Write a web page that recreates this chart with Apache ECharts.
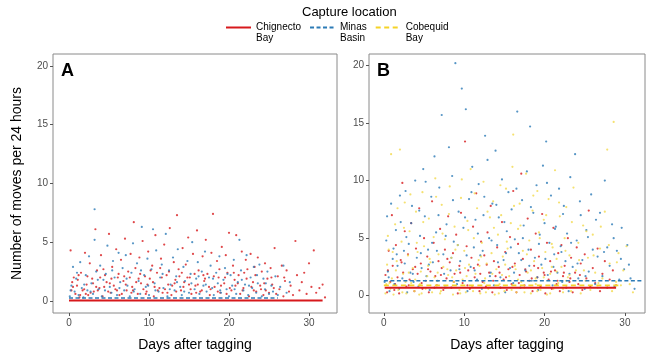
<!DOCTYPE html>
<html><head><meta charset="utf-8">
<script src="https://cdn.jsdelivr.net/npm/echarts@6/dist/echarts.min.js"></script>
<style>html,body{margin:0;padding:0;background:#fff}#c{width:647px;height:357px}</style>
</head><body><div id="c"></div>
<script>
const xTicks = [0, 10, 20, 30];
const yTicks = [0, 5, 10, 15, 20];
const locations = ['Chignecto Bay', 'Minas Basin', 'Cobequid Bay'];

// Panel A: fitted lines
const fitChignectoA = [[0, 0.05], [31.7, 0.05]];
const fitMinasA = [[0, 0.25], [26.1, 0.25]];
// Panel B: fitted lines
const fitChignectoB = [[0.1, 0.7], [28.9, 0.7]];
const fitMinasB = [[0, 1.3], [32.1, 1.3]];
const fitCobequidB = [[0, 0.9], [29.6, 0.9]];

const chignectoA = [[0.2,4.3],[0.5,1.2],[0.8,0.6],[1.1,1.8],[1.3,0.3],[1.5,2.4],[1.7,0.9],[2.0,4.1],[2.2,1.4],[2.4,0.5],[2.6,3.2],[2.9,1.9],[3.1,0.8],[3.3,6.1],[3.5,2.6],[3.8,1.1],[4.0,3.9],[4.2,0.4],[4.5,2.2],[4.7,1.6],[5.0,5.7],[5.2,0.7],[5.4,2.9],[5.6,1.3],[5.9,4.4],[6.1,2.0],[6.3,0.5],[6.5,3.5],[6.8,1.7],[7.0,5.3],[7.2,0.9],[7.4,2.5],[7.7,4.0],[7.9,1.2],[8.1,6.7],[8.3,2.8],[8.6,0.6],[8.8,3.7],[9.0,1.5],[9.2,5.1],[9.5,2.1],[9.7,0.8],[9.9,4.2],[10.1,1.9],[10.4,3.0],[10.6,0.4],[10.8,5.6],[11.0,2.4],[11.3,1.1],[11.5,3.6],[11.7,0.7],[11.9,4.8],[12.2,2.2],[12.4,1.4],[12.6,6.2],[12.8,0.5],[13.1,3.3],[13.3,1.8],[13.5,7.3],[13.7,2.7],[14.0,0.9],[14.2,4.5],[14.4,1.6],[14.6,3.1],[14.9,5.4],[15.1,2.0],[15.3,0.6],[15.5,4.0],[15.8,1.3],[16.0,6.0],[16.2,2.6],[16.4,0.8],[16.7,3.8],[16.9,1.7],[17.1,5.2],[17.3,2.3],[17.6,0.5],[17.8,4.1],[18.0,7.4],[18.2,1.2],[18.5,3.4],[18.7,2.0],[18.9,0.7],[19.1,4.6],[19.4,1.5],[19.6,3.9],[19.8,2.4],[20.0,5.8],[20.3,0.9],[20.5,3.0],[20.7,1.8],[20.9,5.6],[21.2,2.2],[21.4,0.6],[21.6,4.2],[21.8,1.1],[22.1,3.5],[22.3,2.7],[22.5,0.4],[22.7,4.0],[23.0,1.6],[23.2,2.9],[23.4,0.8],[23.6,3.7],[23.9,1.3],[24.1,2.5],[24.3,0.5],[24.5,3.2],[24.8,1.9],[25.0,0.7],[25.2,2.8],[25.4,1.4],[25.7,4.5],[25.9,0.6],[26.1,2.1],[26.3,1.0],[26.6,3.0],[26.8,0.4],[27.0,1.7],[27.2,2.6],[27.5,0.8],[27.7,1.3],[28.0,0.5],[28.3,5.1],[28.5,2.2],[28.8,0.9],[29.1,1.6],[29.4,2.4],[29.7,0.6],[30.0,3.2],[30.3,1.2],[30.6,4.3],[30.9,0.7],[31.3,1.1],[31.7,1.4],[32.0,0.3],
[0.3,0.9],[0.6,2.0],[1.0,1.3],[1.4,0.5],[1.9,1.0],[2.3,2.1],[2.7,0.7],[3.0,1.5],[3.6,0.9],[3.9,2.0],[4.4,1.2],[4.9,0.8],[5.3,1.9],[5.8,1.0],[6.2,2.3],[6.6,0.6],[7.1,1.4],[7.6,2.0],[8.0,0.9],[8.4,1.6],[8.9,2.3],[9.3,1.0],[9.8,1.4],[10.2,2.6],[10.7,1.2],[11.1,0.9],[11.6,2.0],[12.0,1.0],[12.5,2.5],[12.9,1.3],[13.4,0.8],[13.8,2.1],[14.3,1.2],[14.8,2.0],[15.2,1.0],[15.7,2.3],[16.1,1.4],[16.6,0.9],[17.0,1.9],[17.5,1.2],[18.1,2.1],[18.6,0.8],[19.0,1.3],[19.5,2.0],[20.1,1.1],[20.6,2.4],[21.1,1.5],[21.7,0.9],[22.2,1.9],[22.8,1.2],[23.3,2.2],[24.0,1.0],[24.6,0.9],[25.3,2.0],
[0.4,1.6],[1.2,2.2],[2.1,0.6],[3.4,1.2],[4.3,2.7],[5.1,1.5],[6.0,0.9],[6.9,2.1],[7.8,0.7],[8.7,1.9],[9.6,0.6],[10.5,1.6],[11.4,2.8],[12.3,0.7],[13.2,1.5],[14.1,2.4],[15.0,1.4],[15.9,0.7],[16.8,2.2],[17.7,1.0],[18.8,2.7],[19.7,0.6],[20.8,1.3],[21.9,2.4],[23.1,0.9],[24.4,1.5],[25.6,1.1],[26.9,2.0]];

const minasA = [[0.1,0.4],[0.3,1.3],[0.5,2.9],[0.7,0.8],[0.9,1.9],[1.2,0.5],[1.4,3.3],[1.6,1.1],[1.8,0.3],[2.1,2.2],[2.3,0.9],[2.5,3.8],[2.8,1.5],[3.0,0.6],[3.2,5.2],[3.2,7.8],[3.4,2.5],[3.7,1.0],[3.9,3.0],[4.1,0.4],[4.3,1.8],[4.6,2.3],[4.8,4.7],[5.1,1.2],[5.3,0.7],[5.5,3.4],[5.7,2.0],[6.0,0.5],[6.2,4.1],[6.4,1.6],[6.7,2.8],[6.9,0.9],[7.1,3.9],[7.3,1.3],[7.6,0.4],[7.8,2.4],[8.0,4.9],[8.2,1.0],[8.5,3.2],[8.7,1.7],[8.9,0.6],[9.1,6.3],[9.4,2.2],[9.6,1.2],[9.8,3.6],[10.0,0.5],[10.3,2.7],[10.5,6.1],[10.7,1.5],[10.9,4.3],[11.2,0.8],[11.4,2.0],[11.6,3.1],[11.8,1.1],[12.1,5.7],[12.3,0.4],[12.5,2.6],[12.7,1.4],[13.0,3.7],[13.2,0.9],[13.4,2.1],[13.6,4.4],[13.9,1.2],[14.1,0.5],[14.3,2.9],[14.5,1.7],[14.8,3.4],[15.0,0.7],[15.2,2.3],[15.4,5.0],[15.7,1.0],[15.9,1.9],[16.1,3.3],[16.3,0.6],[16.6,2.5],[16.8,1.3],[17.0,4.2],[17.2,0.8],[17.5,2.0],[17.7,3.0],[17.9,1.1],[18.1,0.5],[18.4,2.4],[18.6,1.5],[18.8,3.8],[19.0,0.7],[19.3,1.8],[19.5,2.8],[19.7,1.0],[20.0,0.4],[20.2,2.2],[20.4,1.3],[20.6,3.5],[20.9,0.6],[21.1,1.6],[21.3,5.2],[21.5,2.6],[21.8,0.9],[22.0,1.4],[22.2,3.9],[22.4,0.5],[22.7,2.0],[22.9,1.1],[23.1,2.9],[23.4,0.7],[23.6,1.5],[23.8,3.1],[24.1,0.4],[24.3,1.9],[24.5,1.0],[24.8,2.5],[25.0,0.6],[25.3,1.3],[25.5,0.8],[25.8,2.1],[26.1,0.5],[26.4,1.2],[26.8,3.0],[27.2,0.7],[27.6,1.6],
[0.2,0.9],[1.0,2.4],[1.9,1.4],[2.7,0.8],[3.6,1.8],[4.5,0.9],[5.4,2.6],[6.3,1.1],[7.2,1.9],[8.1,0.8],[9.0,2.6],[9.9,1.3],[10.8,0.9],[11.7,2.3],[12.6,1.0],[13.5,1.6],[14.4,0.8],[15.3,1.5],[16.2,2.1],[17.1,1.4],[18.0,1.9],[18.9,0.9],[19.8,2.3],[20.7,1.0],[21.6,1.8],[22.5,1.3],[23.5,2.2],[24.6,1.5]];

const chignectoB = [[0.2,1.8],[0.4,0.3],[0.6,3.9],[0.8,1.2],[1.0,7.0],[1.1,2.6],[1.3,0.5],[1.5,4.4],[1.7,1.6],[1.9,0.2],[2.1,3.1],[2.3,9.8],[2.4,2.0],[2.6,5.6],[2.8,0.8],[3.0,3.6],[3.2,1.4],[3.4,6.3],[3.6,2.3],[3.8,0.4],[4.0,4.1],[4.2,1.9],[4.4,7.6],[4.6,2.8],[4.8,0.6],[5.0,5.0],[5.2,1.3],[5.4,3.4],[5.6,0.3],[5.8,2.1],[6.0,8.2],[6.2,4.6],[6.4,1.7],[6.6,0.9],[6.8,3.0],[7.0,5.8],[7.2,2.4],[7.4,0.5],[7.6,4.0],[7.8,1.5],[8.0,6.9],[8.2,2.9],[8.4,0.7],[8.6,3.7],[8.8,1.9],[9.0,5.3],[9.2,0.2],[9.4,2.6],[9.6,7.2],[9.8,1.1],[10.1,13.4],[10.3,4.3],[10.5,2.2],[10.7,0.6],[10.9,3.3],[11.1,6.0],[11.3,1.6],[11.5,8.9],[11.7,2.7],[11.9,0.4],[12.1,4.7],[12.3,1.2],[12.5,3.5],[12.7,0.8],[12.9,5.5],[13.1,2.0],[13.3,7.8],[13.5,0.3],[13.7,3.0],[13.9,1.7],[14.1,4.2],[14.3,2.5],[14.5,0.7],[14.7,6.4],[14.9,1.4],[15.1,3.8],[15.3,0.5],[15.5,2.3],[15.7,5.1],[15.9,1.0],[16.1,9.1],[16.3,2.8],[16.5,0.3],[16.7,4.5],[16.9,1.8],[17.1,10.6],[17.3,3.2],[17.5,0.9],[17.7,2.1],[17.9,6.7],[18.1,1.3],[18.3,4.0],[18.5,0.4],[18.7,2.6],[18.9,5.4],[19.1,1.6],[19.3,3.4],[19.5,0.8],[19.7,7.1],[19.9,2.0],[20.1,0.2],[20.3,4.6],[20.5,1.4],[20.7,3.0],[20.9,0.6],[21.1,5.9],[21.3,2.2],[21.5,1.0],[21.7,3.7],[21.9,0.4],[22.1,4.4],[22.3,1.7],[22.5,2.6],[22.7,0.7],[22.9,5.0],[23.1,1.2],[23.3,3.3],[23.5,0.3],[23.8,2.0],[24.0,4.2],[24.2,1.0],[24.5,2.8],[24.7,0.5],[25.0,3.6],[25.2,1.5],[25.5,7.4],[25.7,0.8],[26.0,2.4],[26.3,1.1],[26.6,4.1],[26.9,0.4],[27.2,1.9],[27.5,3.0],[27.8,0.7],[28.1,1.4],[28.5,2.2],[28.9,0.9],
[0.5,2.2],[1.4,1.0],[2.2,2.9],[3.1,0.9],[3.9,2.5],[4.7,1.1],[5.5,2.3],[6.3,0.7],[7.1,1.8],[7.9,3.2],[8.7,1.2],[9.5,2.0],[10.4,0.9],[11.2,2.4],[12.0,1.9],[12.8,2.7],[13.6,1.3],[14.4,2.0],[15.2,1.6],[16.0,2.5],[16.8,1.1],[17.6,2.3],[18.4,1.5],[19.2,2.4],[20.0,1.8],[20.8,2.1],[21.6,1.3],[22.4,2.0],[23.2,1.5],[24.4,1.8]];

const minasB = [[0.1,1.2],[0.3,4.8],[0.5,2.1],[0.7,0.4],[0.9,8.0],[1.1,3.2],[1.3,1.0],[1.5,5.7],[1.7,2.6],[1.9,0.6],[2.1,6.4],[2.3,1.5],[2.5,3.9],[2.7,9.1],[2.9,0.3],[3.1,4.5],[3.3,2.0],[3.5,7.8],[3.7,1.2],[3.9,10.0],[4.1,3.3],[4.3,0.8],[4.5,5.2],[4.7,2.4],[4.9,11.0],[5.1,6.9],[5.3,1.7],[5.5,4.0],[5.7,0.5],[5.9,8.6],[6.1,2.9],[6.3,12.1],[6.5,5.5],[6.7,1.3],[6.9,9.4],[7.2,15.7],[7.4,3.6],[7.6,0.7],[7.8,6.2],[8.1,12.9],[8.3,2.2],[8.5,10.4],[8.7,4.7],[8.9,20.2],[9.1,1.0],[9.3,7.3],[9.5,3.0],[9.7,18.0],[9.9,5.9],[10.2,16.2],[10.4,0.4],[10.6,8.4],[10.8,2.5],[11.0,11.2],[11.2,4.2],[11.4,6.6],[11.6,1.4],[11.8,9.7],[12.0,3.5],[12.2,0.6],[12.4,7.0],[12.6,13.9],[12.9,11.8],[13.1,5.0],[13.3,2.0],[13.5,8.0],[13.7,0.9],[13.9,12.6],[14.1,4.4],[14.3,6.8],[14.5,1.6],[14.7,10.1],[14.9,3.1],[15.1,0.3],[15.3,5.6],[15.5,9.0],[15.7,2.4],[15.9,7.5],[16.1,1.1],[16.3,4.9],[16.6,16.0],[16.8,3.7],[17.0,0.7],[17.2,8.3],[17.4,6.1],[17.6,2.2],[17.8,10.8],[18.0,4.0],[18.2,14.7],[18.4,1.3],[18.6,7.2],[18.8,3.3],[19.0,9.6],[19.2,0.5],[19.4,5.3],[19.6,2.7],[19.8,11.3],[20.0,6.3],[20.2,13.4],[20.4,1.8],[20.6,4.6],[20.8,8.7],[21.0,0.9],[21.2,3.6],[21.4,6.0],[21.6,2.0],[21.8,9.3],[22.0,4.3],[22.2,1.2],[22.4,7.8],[22.6,3.0],[22.8,5.4],[23.0,0.4],[23.2,10.3],[23.5,2.5],[23.8,12.3],[24.0,4.8],[24.2,1.5],[24.5,7.0],[24.7,3.1],[25.0,0.6],[25.2,5.7],[25.5,2.1],[25.8,8.8],[26.0,4.0],[26.3,1.0],[26.6,3.4],[26.9,7.2],[27.2,1.7],[27.5,10.0],[27.8,4.2],[28.1,2.6],[28.4,6.2],[28.7,0.8],[29.0,3.9],[29.3,1.4],[29.6,5.9],[29.9,2.3],[30.3,4.4],[30.7,1.5],[31.2,0.6],
[0.6,1.6],[1.6,3.6],[2.6,2.8],[3.6,1.9],[4.6,3.7],[5.6,2.7],[6.6,3.9],[7.5,1.9],[8.4,3.3],[9.4,2.3],[10.3,3.5],[11.3,2.2],[12.3,3.9],[13.2,1.7],[14.2,2.9],[15.2,3.7],[16.2,2.0],[17.1,3.1],[18.1,2.6],[19.1,1.6],[20.1,3.2],[21.1,2.5],[22.1,3.8],[23.1,1.9],[24.1,2.8],[25.1,1.7],
[0.4,6.9],[1.2,4.1],[2.0,8.7],[2.8,5.1],[3.4,6.3],[4.4,7.4],[5.2,9.9],[6.0,4.6],[6.8,7.0],[7.7,5.2],[8.6,8.3],[9.2,4.4],[10.1,6.8],[10.9,9.0],[11.7,5.4],[12.5,8.6],[13.4,4.8],[14.0,7.9],[15.0,6.4],[15.8,4.2],[16.5,9.3],[17.3,5.0],[18.3,7.7],[19.3,4.5],[20.3,9.8],[21.3,5.8],[22.3,7.1],[23.3,4.6],[24.4,8.2],[25.4,5.1],[26.4,6.6],[27.4,3.8],[28.6,5.0],[29.5,3.2],[30.5,2.7]];

const cobequidB = [[0.2,0.2],[0.4,2.7],[0.6,4.0],[0.9,12.3],[1.0,1.5],[1.2,0.1],[1.4,6.2],[1.6,3.0],[1.8,0.5],[2.0,12.7],[2.2,4.7],[2.4,1.9],[2.6,8.1],[2.8,0.2],[3.0,3.5],[3.2,5.6],[3.4,1.1],[3.6,2.4],[3.8,0.4],[4.0,7.3],[4.2,3.8],[4.4,0.1],[4.6,2.1],[4.8,9.0],[5.0,4.3],[5.2,0.6],[5.4,1.7],[5.6,6.7],[5.8,2.9],[6.0,0.3],[6.2,5.1],[6.4,10.2],[6.6,1.3],[6.8,3.6],[7.0,0.2],[7.2,7.9],[7.4,2.5],[7.6,4.9],[7.8,0.7],[8.0,1.8],[8.2,9.5],[8.4,3.3],[8.6,0.1],[8.8,6.0],[9.0,2.2],[9.2,4.4],[9.4,0.5],[9.6,8.5],[9.8,1.4],[10.0,3.9],[10.2,0.3],[10.4,6.5],[10.6,2.7],[10.8,11.0],[11.0,0.8],[11.2,5.0],[11.4,1.9],[11.6,7.6],[11.8,3.1],[12.0,0.2],[12.2,4.6],[12.4,9.9],[12.6,1.5],[12.8,2.8],[13.0,0.6],[13.2,6.8],[13.4,3.7],[13.6,8.2],[13.8,0.1],[14.0,2.3],[14.2,5.3],[14.4,1.0],[14.6,7.0],[14.8,3.4],[15.0,0.4],[15.2,9.3],[15.4,4.1],[15.6,1.7],[15.8,6.3],[16.0,11.2],[16.1,14.0],[16.3,2.6],[16.5,0.3],[16.7,5.8],[16.9,8.0],[17.1,1.2],[17.3,3.9],[17.5,0.7],[17.7,10.6],[17.9,2.0],[18.1,4.8],[18.3,0.2],[18.5,7.4],[18.7,3.0],[18.9,1.5],[19.1,9.1],[19.3,5.5],[19.5,0.5],[19.7,2.4],[19.9,6.6],[20.1,3.8],[20.3,0.1],[20.5,8.4],[20.7,1.9],[20.9,4.5],[21.1,0.6],[21.3,10.9],[21.5,3.2],[21.7,1.1],[21.9,6.9],[22.1,2.5],[22.3,0.3],[22.5,5.0],[22.7,7.7],[22.9,1.6],[23.1,3.5],[23.3,0.4],[23.6,9.4],[23.9,2.2],[24.2,4.6],[24.5,0.2],[24.8,6.1],[25.1,1.3],[25.4,3.3],[25.7,0.5],[26.0,5.3],[26.3,2.0],[26.6,0.7],[26.9,4.1],[27.2,1.5],[27.5,7.3],[27.8,12.7],[28.1,2.8],[28.4,0.4],[28.6,15.1],[28.9,1.2],[29.2,3.7],[29.5,0.9],[29.8,2.2],[30.2,4.3],[30.6,1.0],[31.0,0.3],
[0.3,1.0],[0.8,0.6],[1.5,2.2],[2.3,0.3],[3.1,2.0],[3.9,1.4],[4.7,0.2],[5.5,2.6],[6.3,1.6],[7.1,0.4],[7.9,2.3],[8.7,1.2],[9.5,0.2],[10.3,1.7],[11.1,0.4],[11.9,2.6],[12.7,0.3],[13.5,1.9],[14.3,0.2],[15.1,2.7],[15.9,0.5],[16.7,1.4],[17.5,0.3],[18.3,2.2],[19.1,0.4],[19.9,1.6],[20.7,0.2],[21.5,2.1],[22.3,0.6],[23.1,1.8],
[0.5,5.2],[1.1,3.8],[1.7,7.6],[2.5,5.9],[3.3,8.8],[4.1,4.6],[4.9,6.4],[5.7,3.2],[6.5,8.6],[7.3,5.4],[8.1,7.1],[8.9,4.0],[9.7,10.1],[10.5,5.7],[11.3,8.9],[12.1,3.4],[12.9,7.3],[13.7,5.9],[14.5,9.6],[15.3,4.7],[16.2,7.8],[17.0,6.1],[17.8,3.6],[18.6,8.7],[19.4,5.0],[20.2,7.0],[21.0,4.2],[21.8,8.1],[22.6,3.9],[23.4,6.4],[24.3,3.1],[25.2,5.6],[26.1,3.5],[27.0,6.0],[28.0,4.4],[29.0,2.9],[0.7,1.1],[2.7,1.2],[4.5,1.0],[6.7,2.0],[8.5,1.6],[10.1,2.4],[12.5,1.1],[14.7,1.8],[16.4,2.3],[18.9,1.0],[20.9,2.5],[22.7,1.3],[24.9,2.2],[26.7,1.1]];

const FONT = '"Liberation Sans", Arial, sans-serif';
const C = { red: '#d7191c', blue: '#2c7bb6', yellow: '#f5d327' };
const P = { red: '#d7191c', blue: '#2c7bb6', yellow: '#f3da4c' };

function xAx(gi, min, max) {
  return {
    gridIndex: gi, type: 'value', min: min, max: max,
    name: 'Days after tagging', nameLocation: 'middle', nameGap: 25,
    nameTextStyle: { fontFamily: FONT, fontSize: 14, color: '#000' },
    axisLine: { show: false, onZero: false }, splitLine: { show: false },
    axisTick: { show: true, length: 3, lineStyle: { color: '#555' }, customValues: xTicks },
    axisLabel: { fontFamily: FONT, fontSize: 10, color: '#4d4d4d', margin: 5, customValues: xTicks }
  };
}
function yAx(gi, min, max, named) {
  return {
    gridIndex: gi, type: 'value', min: min, max: max,
    name: named ? 'Number of moves per 24 hours' : '', nameLocation: 'middle', nameGap: 29,
    nameTextStyle: { fontFamily: FONT, fontSize: 14, color: '#000' },
    axisLine: { show: false, onZero: false }, splitLine: { show: false },
    axisTick: { show: true, length: 3, lineStyle: { color: '#555' }, customValues: yTicks },
    axisLabel: { fontFamily: FONT, fontSize: 10, color: '#4d4d4d', margin: 5, customValues: yTicks }
  };
}
function fit(name, data, gi, color, type, width) {
  return { type: 'line', name: name, data: data, xAxisIndex: gi, yAxisIndex: gi,
    symbol: 'none', showSymbol: false, silent: true, z: 5, clip: false,
    lineStyle: { color: color, width: width, type: type }, itemStyle: { color: color } };
}
function pts(name, data, gi, color) {
  return { type: 'scatter', name: name, data: data, xAxisIndex: gi, yAxisIndex: gi,
    symbolSize: 2.2, z: 2, silent: true,
    itemStyle: { color: color, opacity: 0.8 } };
}

const chart = echarts.init(document.getElementById('c'), null, { renderer: 'canvas' });
chart.setOption({
  animation: false,
  backgroundColor: '#fff',
  title: { text: 'Capture location', left: 302, top: 6, padding: 0,
    textStyle: { fontFamily: FONT, fontSize: 13, fontWeight: 'normal', color: '#000' } },
  legend: {
    data: locations, left: 225, top: 11, padding: 0, itemGap: 8,
    itemWidth: 25, itemHeight: 10,
    itemStyle: { opacity: 0, borderWidth: 0 },
    formatter: n => '\n' + n.replace(' ', '\n'),
    textStyle: { fontFamily: FONT, fontSize: 10, lineHeight: 11, color: '#000' },
    selectedMode: false
  },
  grid: [
    { left: 53, right: 310, top: 54, bottom: 43, show: true, borderColor: '#8a8a8a', borderWidth: 1, containLabel: false },
    { left: 369, right: 2, top: 54, bottom: 43, show: true, borderColor: '#8a8a8a', borderWidth: 1, containLabel: false }
  ],
  xAxis: [xAx(0, -2.0, 33.5), xAx(1, -1.85, 32.5)],
  yAxis: [yAx(0, -1.02, 21.0, true), yAx(1, -1.5, 21.0, false)],
  graphic: [
    { type: 'text', left: 61, top: 62, style: { text: 'A', fontFamily: FONT, fontSize: 18, fontWeight: 'bold', fill: '#000' } },
    { type: 'text', left: 377, top: 62, style: { text: 'B', fontFamily: FONT, fontSize: 18, fontWeight: 'bold', fill: '#000' } }
  ],
  series: [
    fit('Chignecto Bay', fitChignectoA, 0, C.red, 'solid', 2),
    fit('Minas Basin', fitMinasA, 0, C.blue, [4, 2.5], 1.6),
    fit('Cobequid Bay', fitCobequidB, 1, C.yellow, [5, 3.5], 1.8),
    fit('Minas Basin', fitMinasB, 1, C.blue, [4, 2.5], 1.6),
    fit('Chignecto Bay', fitChignectoB, 1, C.red, 'solid', 2),
    pts('Chignecto Bay', chignectoA, 0, P.red),
    pts('Minas Basin', minasA, 0, P.blue),
    pts('Chignecto Bay', chignectoB, 1, P.red),
    pts('Minas Basin', minasB, 1, P.blue),
    pts('Cobequid Bay', cobequidB, 1, P.yellow)
  ]
});
</script></body></html>
